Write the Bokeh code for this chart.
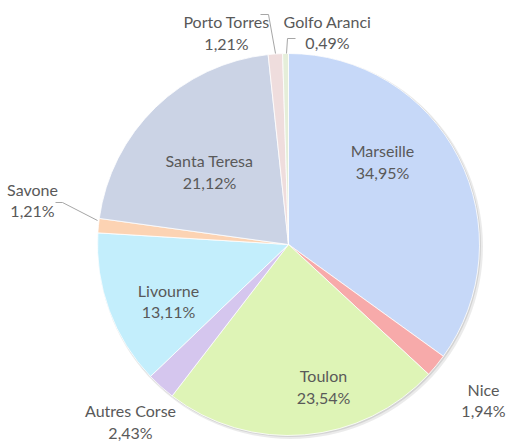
import numpy as np
from bokeh.plotting import figure
from bokeh.models import ColumnDataSource, Range1d
from bokeh.core.properties import value
from bokeh.embed import file_html
from bokeh.resources import INLINE

# ---- data ----
ports = ["Marseille", "Nice", "Toulon", "Autres Corse", "Livourne",
         "Savone", "Santa Teresa", "Porto Torres", "Golfo Aranci"]
shares = [34.95, 1.94, 23.54, 2.43, 13.11, 1.21, 21.12, 1.21, 0.49]
colors = ["#c6d8f8", "#f7aaaa", "#def4b6", "#d5c6ee", "#c3eefc",
          "#fcd3b3", "#cbd3e5", "#efdddd", "#e5eed9"]

# ---- layout (image pixel coordinates of label centres) ----
W, H = 506, 441
def X(px): return px
def Y(py): return H - py

label_x = [382, 483, 323, 130, 168, 32, 209, 226, 327]
label_y1 = [150, 389, 375, 410, 290, 189, 160, 21, 21]
label_y2 = [172, 410, 397, 432, 311, 210, 182, 43, 42]

cx, cy, r = X(288), Y(244), 191

p = figure(width=W, height=H, x_range=Range1d(0, W), y_range=Range1d(0, H),
           output_backend="svg", toolbar_location=None, min_border=0,
           min_border_left=0, min_border_right=0, min_border_top=0, min_border_bottom=0)
p.axis.visible = False
p.grid.visible = False
p.outline_line_color = None
p.background_fill_color = "white"
p.border_fill_color = "white"

vals = np.array(shares) / np.sum(shares)
cum = np.concatenate([[0], np.cumsum(vals)])
start = np.pi / 2 - cum[:-1] * 2 * np.pi
end = np.pi / 2 - cum[1:] * 2 * np.pi

# soft shadow
p.circle(x=cx + 2, y=cy - 2, radius=r + 1.5, fill_color="#000000", fill_alpha=0.08, line_color=None)
p.circle(x=cx + 1, y=cy - 1, radius=r + 0.5, fill_color="#000000", fill_alpha=0.10, line_color=None)

src = ColumnDataSource(dict(start=start, end=end, color=colors, port=ports))
p.wedge(x=cx, y=cy, radius=r, start_angle="start", end_angle="end", direction="clock",
        fill_color="color", line_color="white", line_width=0.8, source=src)

# leader lines
p.line(x=[X(260), X(268), X(275)], y=[Y(14), Y(14), Y(53)], line_color="#a6a6a6", line_width=1)
p.line(x=[X(295), X(287), X(286)], y=[Y(38), Y(38), Y(53)], line_color="#a6a6a6", line_width=1)
p.line(x=[X(55), X(62), X(97)], y=[Y(202), Y(202), Y(220)], line_color="#a6a6a6", line_width=1)

pct = [f"{v:.2f}".replace(".", ",") + "%" for v in shares]
lsrc = ColumnDataSource(dict(x=[X(v) for v in label_x], y1=[Y(v) for v in label_y1],
                             y2=[Y(v) for v in label_y2], name=ports, pct=pct))
for col, key in (("name", "y1"), ("pct", "y2")):
    p.text(x="x", y=key, text=col, source=lsrc, text_align="center", text_baseline="middle",
           text_font=value("Lato"), text_font_size="16px", text_color="#595959")

open("out.html", "w").write(file_html(p, INLINE))
